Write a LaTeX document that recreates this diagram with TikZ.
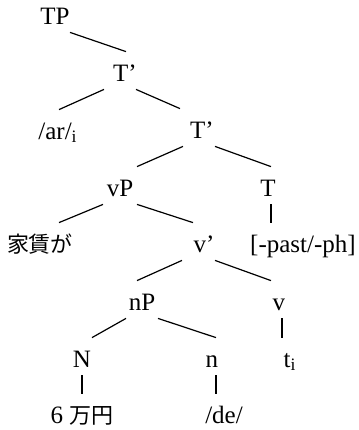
\documentclass[tikz,border=0pt]{standalone}
\usepackage{fontspec}
\setmainfont{Liberation Serif}
\newfontfamily\jpfont{Noto Sans CJK JP}
\usepackage{tikz}
\usetikzlibrary{positioning, calc}
\newcommand{\jptext}[1]{{\jpfont\fontsize{11}{13}\selectfont #1}}
\tikzset{
  cat/.style={anchor=base, inner xsep=0pt, inner ysep=4pt,
    text height=10.5pt, text depth=0pt,
    font=\fontsize{12.5}{15}\selectfont},
  branch/.style={black, line width=0.6pt},
}

\begin{document}
\begin{tikzpicture}[x=0.5pt, y=-0.5pt]
    \useasboundingbox (0,0) rectangle (359,430);
    \node[cat] (tp)     at (55,24)   {TP};
    \node[cat] (tbar)   at (125,81)  {T’};
    \node[cat] (ar)     at (58,139)  {/ar/\textsubscript{i}};
    \node[cat] (tbarb)  at (202,138) {T’};
    \node[cat] (vp)     at (120,196) {vP};
    \node[cat] (t)      at (268,196) {T};
    \node[cat] (yachin) at (40,252)  {\jptext{家賃が}};
    \node[cat] (vbar)   at (204,252) {v’};
    \node[cat] (past)   at (303,252) {[-past/-ph]};
    \node[cat] (np)     at (142,310) {nP};
    \node[cat] (v)      at (279,310) {v};
    \node[cat] (bign)   at (82,367)  {N};
    \node[cat] (smalln) at (212,367) {n};
    \node[cat] (ti)     at (290,367) {t\textsubscript{i}};
    \node[cat] (man)    at (82,423)  {6 \jptext{万円}};
    \node[cat] (de)     at (224,423) {/de/};
    \draw[branch] ([xshift=7.5pt]tp.south) -- ([xshift=0.5pt]tbar.north);
    \draw[branch] ([xshift=-10.5pt]tbar.south) -- ([xshift=0.5pt]ar.north);
    \draw[branch] ([xshift=5.5pt]tbar.south) -- ([xshift=-11pt]tbarb.north);
    \draw[branch] ([xshift=-9.5pt]tbarb.south) -- ([xshift=8.5pt]vp.north);
    \draw[branch] ([xshift=6.5pt]tbarb.south) -- ([xshift=1.5pt]t.north);
    \draw[branch] ([xshift=1.5pt]t.south) -- ([xshift=-16pt]past.north);
    \draw[branch] ([xshift=-8.5pt]vp.south) -- ([xshift=9.5pt]yachin.north);
    \draw[branch] ([xshift=8.5pt]vp.south) -- ([xshift=-5.5pt]vbar.north);
    \draw[branch] ([xshift=-11pt]vbar.south) -- ([xshift=-2.5pt]np.north);
    \draw[branch] ([xshift=5.5pt]vbar.south) -- ([xshift=-4pt]v.north);
    \draw[branch] ([xshift=1.5pt]v.south) -- ([xshift=-4pt]ti.north);
    \draw[branch] ([xshift=-8pt]np.south) -- ([xshift=5pt]bign.north);
    \draw[branch] ([xshift=8pt]np.south) -- ([xshift=2pt]smalln.north);
    \draw[branch] (bign.south) -- (man.north);
    \draw[branch] ([xshift=2pt]smalln.south) -- ([xshift=-4pt]de.north);
\end{tikzpicture}
\end{document}
